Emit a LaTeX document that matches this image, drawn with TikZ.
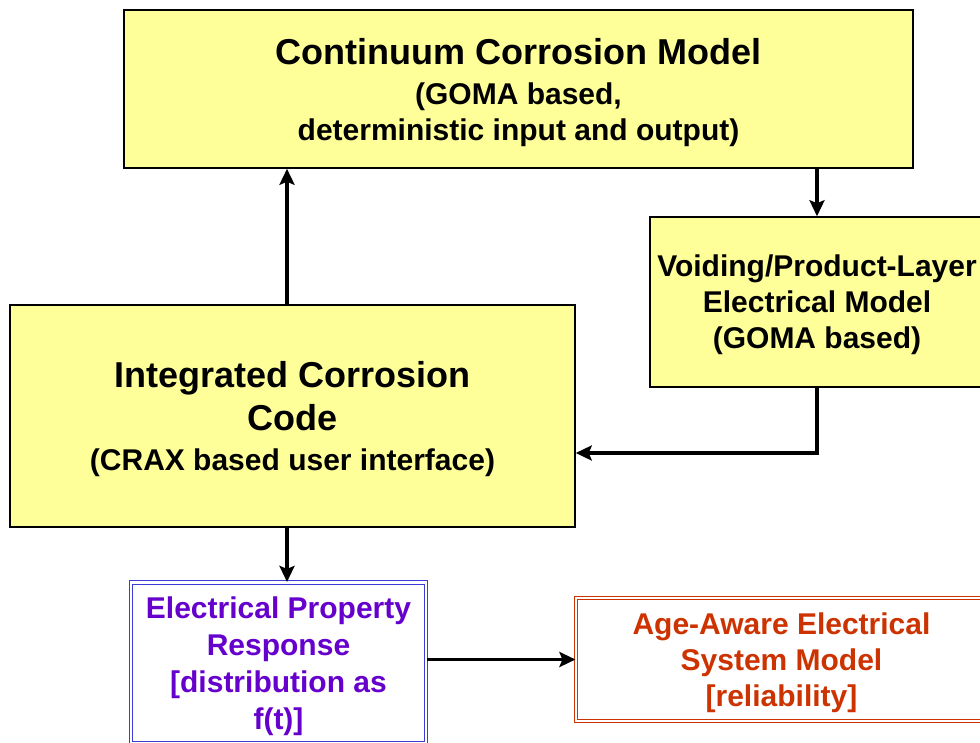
\documentclass[tikz,border=0pt]{standalone}
\usepackage{fontspec}
\setmainfont{Liberation Sans}
\usetikzlibrary{arrows.meta, positioning, calc}
\definecolor{cyellow}{HTML}{FFFF99}
\definecolor{cblue}{HTML}{3C3CD6}
\definecolor{cpurple}{HTML}{6600CC}
\definecolor{cred}{HTML}{CC3300}
\tikzset{
  every picture/.style={font=\bfseries, line width=1.5pt},
  box/.style={draw=black, fill=cyellow, align=center, inner sep=0pt, text depth=0pt, font=\fontsize{30}{36}\selectfont\bfseries},
  dbox/.style={draw=#1, double=white, double distance=2.2pt, line width=1.1pt, fill=white, align=center, inner sep=0pt, text depth=0pt, font=\fontsize{30}{36}\selectfont\bfseries},
  arrow/.style={-{Stealth[length=16pt, width=15pt, inset=3pt]}, draw=black, line width=3.5pt},
}
\begin{document}
\begin{tikzpicture}[x=1pt, y=-1pt]
  \useasboundingbox (0,0) rectangle (980,742);
  \node[box, minimum width=789pt, minimum height=158pt, text depth=-3pt] (cont) at (518.5,89)
    {{\fontsize{36}{42}\selectfont Continuum Corrosion Model}\\[4pt]
     (GOMA based,\\ deterministic input and output)};
  \node[box, minimum width=334pt, minimum height=170pt] (void) at (817,302)
    {Voiding/Product-Layer\\ Electrical Model\\ (GOMA based)};
  \node[box, minimum width=565pt, minimum height=222pt, text depth=-3pt] (icc) at (292.5,416)
    {{\fontsize{36}{42}\selectfont Integrated Corrosion}\\[7pt] {\fontsize{36}{42}\selectfont Code}\\[4pt] (CRAX based user interface)};
  \node[dbox=cblue, text=cpurple, minimum width=295pt, minimum height=161pt, text depth=-4pt] (resp) at (278.5,663)
    {Electrical Property\\[1pt] Response\\[1pt] {[distribution as}\\[1pt] f(t)]};
  \node[dbox=cred, text=cred, minimum width=411pt, minimum height=123pt, text depth=-4pt] (age) at (781.5,659.5)
    {Age-Aware Electrical\\ System Model\\ {[reliability]}};
  % connectors
  \draw[arrow] ([xshift=-5.5pt]icc.north) -- ([xshift=-5.5pt]icc.north |- cont.south);
  \draw[arrow] (cont.south -| void.north) -- (void.north);
  \draw[arrow] (void.south) |- ([yshift=-37pt]icc.east);
  \draw[arrow] ([xshift=-5.5pt]icc.south) -- ([xshift=-5.5pt]icc.south |- resp.north);
  \draw[arrow] (resp.east |- age.west) -- (age.west);
\end{tikzpicture}
\end{document}
